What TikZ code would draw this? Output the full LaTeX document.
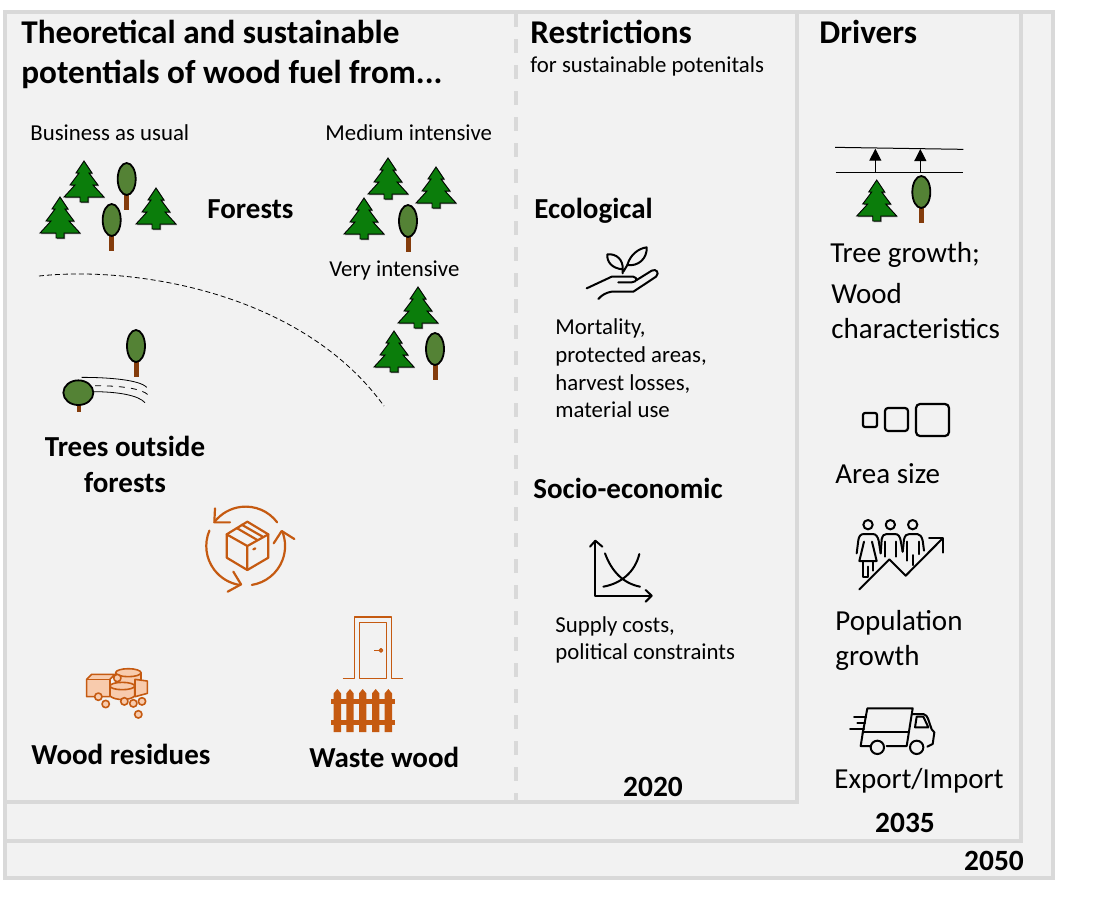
\documentclass[tikz,border=0pt]{standalone}
\usepackage{fontspec}
\setmainfont{Carlito}
\usetikzlibrary{arrows.meta}
\definecolor{paneline}{HTML}{D9D9D9}
\definecolor{panefill}{HTML}{F2F2F2}
\definecolor{firgreen}{HTML}{0B7D0B}
\definecolor{leafgreen}{HTML}{548235}
\definecolor{trunkbrown}{HTML}{843C0C}
\definecolor{woodorange}{HTML}{C55A11}
\definecolor{woodpeach}{HTML}{F8CBAD}
\tikzset{
	pane/.style = {draw=paneline, line width=2pt, fill=panefill},
	headtext/.style = {inner sep=0, anchor=west, align=left, font=\fontsize{16.6}{20}\selectfont\bfseries},
	subtext/.style = {inner sep=0, anchor=west, align=left, font=\fontsize{14.5}{18}\selectfont\bfseries},
	smalltext/.style = {inner sep=0, anchor=west, align=left, font=\fontsize{11.4}{13.8}\selectfont},
	drivertext/.style = {inner sep=0, anchor=west, align=left, font=\fontsize{14.5}{17.5}\selectfont},
	yeartext/.style = {inner sep=0, font=\fontsize{14.7}{15}\selectfont\bfseries},
	zoomed/.style = {x=0.16667pt, y=-0.16667pt},
	icon/.style = {line width=1pt, line cap=round, line join=round},
	woodicon/.style = {draw=woodorange, line width=0.8pt, line join=round},
	firtree/.pic = {
		\fill[black!60] (1,1) -- (9,13) -- (6,13) -- (15,25) -- (10,25) -- (21,37) -- (5,37) -- (5,42) -- (-3,42) -- (-3,37) -- (-19,37) -- (-8,25) -- (-13,25) -- (-4,13) -- (-7,13) -- cycle;
		\draw[fill=firgreen, line width=0.45pt] (0,0) -- (8,12) -- (5,12) -- (14,24) -- (9,24) -- (20,36) -- (4,36) -- (4,41) -- (-4,41) -- (-4,36) -- (-20,36) -- (-9,24) -- (-14,24) -- (-5,12) -- (-8,12) -- cycle;
	},
	roundtree/.pic = {
		\fill[trunkbrown] (-2.5,14) rectangle (2.5,31);
		\draw[fill=leafgreen, line width=0.9pt] (0,0) ellipse [x radius=9, y radius=16];
	}
}
\begin{document}
\begin{tikzpicture}[x=0.5pt, y=-0.5pt]
	\useasboundingbox (0,0) rectangle (1112,896);
	% nested panes
	\draw[pane] (5,12) rectangle (1053,878);
	\draw[pane] (5,12) rectangle (1021,841);
	\draw[pane] (5,12) rectangle (797,802);
	\draw[paneline, line width=2pt, dash pattern=on 7pt off 6pt] (516,13) -- (516,802);
	
	% headings
	\node[headtext] (theoretical) at (21,54) {Theoretical and sustainable\\potentials of wood fuel from...};
	\node[headtext] (restrictions) at (530,32) {Restrictions};
	\node[smalltext] (potentials) at (530,66) {for sustainable potenitals};
	\node[headtext] (drivers) at (819,32) {Drivers};
	
	% forests
	\node[smalltext] (usual) at (30,133) {Business as usual};
	\node[smalltext] (medium) at (325,133) {Medium intensive};
	\node[smalltext] (intensive) at (329,270) {Very intensive};
	\node[subtext] (forests) at (207,209) {Forests};
	\pic (fir1) at (84,161) {firtree};
	\pic (fir2) at (60,197) {firtree};
	\pic (fir3) at (156,188) {firtree};
	\pic (fir4) at (388,158) {firtree};
	\pic (fir5) at (436,167) {firtree};
	\pic (fir6) at (364,198) {firtree};
	\pic (fir7) at (418,287) {firtree};
	\pic (fir8) at (394,331) {firtree};
	\pic (tree1) at (126.7,179) {roundtree};
	\pic (tree2) at (111.7,220) {roundtree};
	\pic (tree3) at (408,221) {roundtree};
	\pic (tree4) at (435,349) {roundtree};
	\draw[dash pattern=on 2.5pt off 1.5pt, line width=0.4pt] (39,276) .. controls (130,266) and (300,290) .. (384,406);
	
	% trees outside forests
	\pic (tree5) at (136,346) {roundtree};
	\begin{scope}[shift={(20,120)}, zoomed]
		\fill[trunkbrown] (171,850) rectangle (183,876);
		\draw[fill=leafgreen, line width=0.9pt] (175,818) ellipse [x radius=45, y radius=37];
		\draw[line width=0.4pt] (185,772) .. controls (270,772) and (360,780) .. (380,802);
		\draw[line width=0.4pt, dashed] (225,797) .. controls (300,797) and (365,805) .. (385,825);
		\draw[line width=0.4pt] (220,815) .. controls (290,815) and (355,825) .. (375,848);
	\end{scope}
	\node[subtext, anchor=center, align=center] (outside) at (125,464.5) {Trees outside\\forests};
	
	% recycling box
	\begin{scope}[shift={(60,490)}, zoomed, woodicon, line width=1.1pt, line cap=round]
		\coordinate (turn) at (557,168);
		\draw (turn) ++(37:19.7pt) arc [start angle=37, end angle=142, radius=19.7pt];
		\draw (465,55) -- (463,97) -- (510,97);
		\draw (turn) ++(-81:19.7pt) arc [start angle=-81, end angle=22, radius=19.7pt];
		\draw (641,160) -- (665,123) -- (703,147);
		\draw (turn) ++(157:19.7pt) arc [start angle=157, end angle=262, radius=19.7pt];
		\draw (520,245) -- (543,283) -- (503,305);
		\draw (562,95) -- (625,133) -- (625,203) -- (562,240) -- (500,203) -- (500,133) -- cycle;
		\draw (500,133) -- (562,168) -- (625,133) (562,168) -- (562,240);
		\draw (530,114) -- (592,150) (545,104) -- (608,140) (580,178) -- (586,175);
	\end{scope}
	
	% wood residues
	\begin{scope}[shift={(60,490)}, zoomed, woodicon]
		\draw[fill=woodpeach] (167,548) -- (167,583) -- (243,583) -- (243,548) -- cycle;
		\draw[fill=woodpeach] (205,548) ellipse [x radius=38, y radius=12];
		\draw[fill=woodpeach] (225,568) -- (262,573) -- (262,610) -- (225,620) -- cycle;
		\draw[fill=woodpeach] (80,568) -- (95,553) -- (165,553) -- (150,568) -- (150,620) -- (80,620) -- cycle;
		\draw (80,568) -- (150,568);
		\draw[fill=woodpeach] (150,588) -- (150,618) .. controls (165,632) and (210,632) .. (224,618) -- (224,588) -- cycle;
		\draw[fill=woodpeach] (187,588) ellipse [x radius=37, y radius=11];
		\foreach \cx/\cy in {115/620, 137/642, 193/634, 220/640, 246/634, 235/673, 172/564}
			\draw[fill=woodpeach] (\cx,\cy) circle [radius=11];
	\end{scope}
	\node[subtext] (residues) at (31,754) {Wood residues};
	
	% waste wood
	\begin{scope}[shift={(60,490)}, zoomed, woodicon]
		\draw (848,565) -- (883,565) -- (883,381) -- (995,381) -- (995,565) -- (1030,565);
		\draw (898,565) -- (898,397) -- (980,397) -- (980,565) -- cycle;
		\draw (943,481) -- (958,481);
		\draw (963,481) circle [radius=5];
		\foreach \px in {832,870,908,947,985}
			\fill[woodorange] (\px-11,726) -- (\px-11,610) -- (\px,597) -- (\px+11,610) -- (\px+11,726) -- cycle;
		\fill[woodorange] (813,628) rectangle (1004,642);
		\fill[woodorange] (813,690) rectangle (1004,704);
	\end{scope}
	\node[subtext] (waste) at (309,757) {Waste wood};
	
	% restrictions
	\node[subtext] (ecological) at (534,211) {Ecological};
	\begin{scope}[shift={(570,230)}, zoomed, icon]
		\draw (158,118) .. controls (125,115) and (110,95) .. (112,73) .. controls (140,70) and (160,90) .. (158,118);
		\draw (172,105) .. controls (180,75) and (205,55) .. (230,52) .. controls (232,85) and (205,110) .. (172,105);
		\draw (158,118) -- (158,130) (172,105) -- (160,125);
		\draw (50,175) -- (125,140) -- (190,140) .. controls (203,143) and (203,155) .. (185,157) -- (145,157);
		\draw (200,150) -- (245,122) .. controls (258,115) and (270,128) .. (258,140) -- (190,185) -- (125,185) .. controls (110,187) and (95,195) .. (85,207);
	\end{scope}
	\node[smalltext] (mortality) at (555,368.5) {Mortality,\\protected areas,\\harvest losses,\\material use};
	\node[subtext] (socio) at (533,488) {Socio-economic};
	\begin{scope}[shift={(580,530)}, zoomed, icon]
		\draw (46,35) -- (46,197) -- (213,197);
		\draw (30,50) -- (46,32) -- (67,50);
		\draw (197,180) -- (215,197) -- (197,215);
		\draw (75,70) .. controls (95,125) and (130,160) .. (180,170);
		\draw (70,170) .. controls (125,160) and (165,125) .. (178,72);
	\end{scope}
	\node[smalltext] (supply) at (555,640) {Supply costs,\\political constraints};
	\node[yeartext] (y2020) at (653,787) {2020};
	
	% drivers
	\begin{scope}[shift={(820,130)}, zoomed]
		\draw[line width=0.5pt] (45,52) -- (430,58);
		\draw[line width=0.5pt] (47,127) -- (430,127);
		\coordinate (up1) at (166,56);
		\coordinate (up2) at (301,57);
		\draw[line width=0.5pt, -{Triangle[width=6pt,length=6pt]}] (166,127) -- (up1);
		\draw[line width=0.5pt, -{Triangle[width=6pt,length=6pt]}] (301,127) -- (up2);
	\end{scope}
	\pic (fir9) at (876.7,180) {firtree};
	\pic (tree6) at (921.3,192) {roundtree};
	\node[drivertext] (growth) at (830,255) {Tree growth;};
	\node[drivertext] (wood) at (831,311.5) {Wood\\characteristics};
	\draw[icon, rounded corners=1pt, line width=1.1pt] (863,413) rectangle (877,427);
	\draw[icon, rounded corners=1.5pt, line width=1.1pt] (885,408) rectangle (908,431);
	\draw[icon, rounded corners=2pt, line width=1.1pt] (916,404) rectangle (949,436);
	\node[drivertext] (area) at (835,474) {Area size};
	\begin{scope}[shift={(840,510)}, zoomed, icon]
		\foreach \hx in {84,151,218}
			\draw (\hx,44) circle [radius=14];
		\draw (50,130) -- (55,90) .. controls (57,78) and (62,72) .. (72,72) -- (98,72) .. controls (108,72) and (113,80) .. (116,92) -- (122,130);
		\draw (72,95) -- (58,153) -- (110,153) -- (96,95);
		\draw (70,153) -- (70,200) -- (85,200) -- (85,170) (98,153) -- (98,182);
		\draw (122,130) -- (125,88) .. controls (128,76) and (132,72) .. (140,72) -- (165,72) .. controls (175,72) and (180,80) .. (182,92) -- (188,125);
		\draw (135,95) -- (135,140) (167,95) -- (167,140);
		\draw (188,125) -- (192,88) .. controls (195,76) and (200,72) .. (208,72) -- (232,72) .. controls (240,72) and (245,80) .. (248,92) -- (252,122);
		\draw (202,95) -- (202,152) (236,95) -- (236,132) (218,135) -- (218,165);
		\draw (58,238) -- (148,148) -- (197,197) -- (305,88);
		\draw (267,84) -- (308,84) -- (308,128);
	\end{scope}
	\node[drivertext] (population) at (835,640.5) {Population\\growth};
	\begin{scope}[shift={(840,700)}, zoomed, icon]
		\draw (68,100) -- (82,25) -- (218,25) -- (200,138) -- (140,138);
		\draw (68,97) -- (205,97);
		\draw (68,100) -- (62,138) -- (90,138);
		\draw (42,50) -- (78,50) (52,70) -- (75,70) (30,88) -- (72,88);
		\draw (112,142) circle [radius=20];
		\draw (230,142) circle [radius=20];
		\draw (218,42) -- (250,42) .. controls (258,44) and (262,50) .. (264,56) -- (275,88) -- (283,97) -- (278,132) -- (262,140);
		\draw (230,50) -- (250,50) -- (265,82) -- (225,82) -- cycle;
	\end{scope}
	\node[drivertext] (export) at (834,781) {Export/Import};
	\node[yeartext] (y2035) at (905,823) {2035};
	\node[yeartext] (y2050) at (994,861) {2050};
\end{tikzpicture}
\end{document}
